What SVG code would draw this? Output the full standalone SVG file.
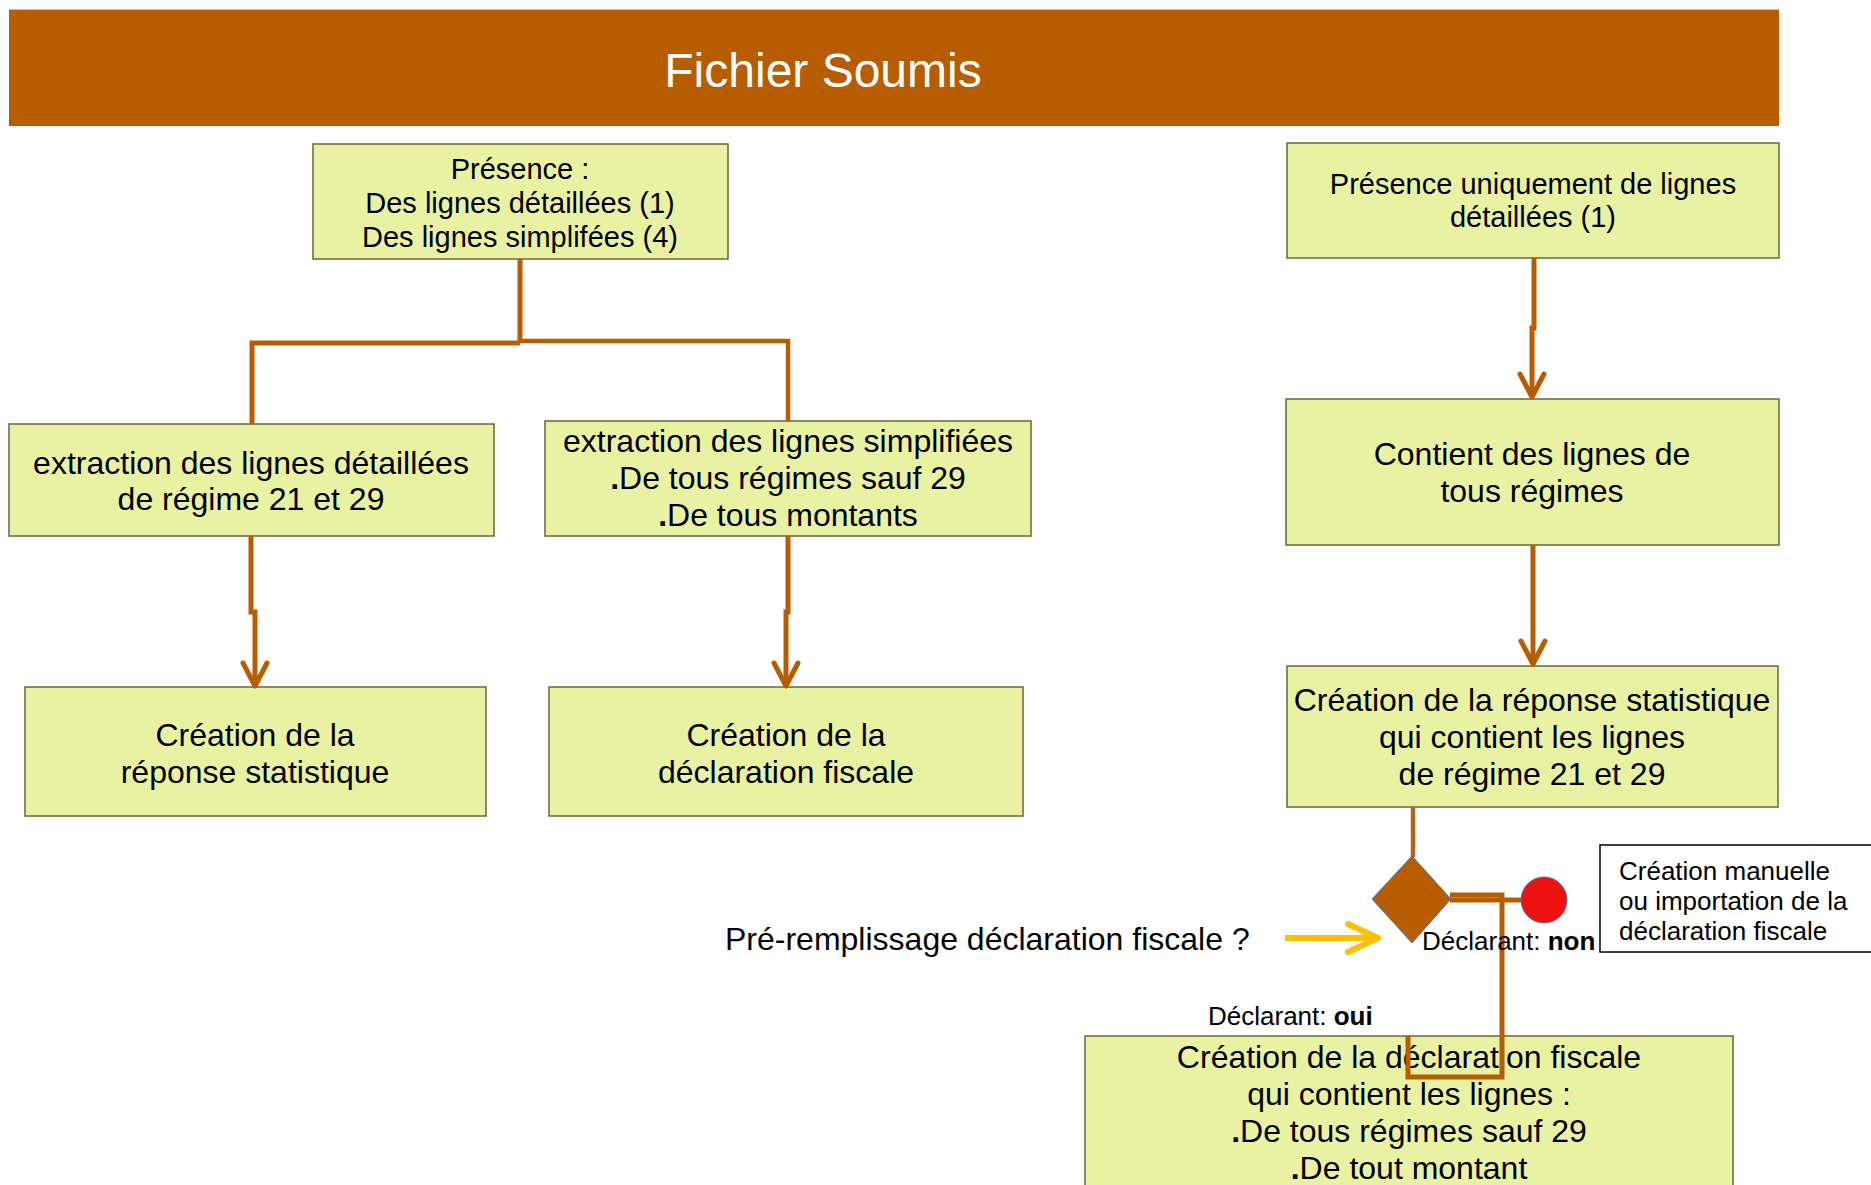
<svg xmlns="http://www.w3.org/2000/svg" width="1871" height="1185" viewBox="0 0 1871 1185">
<defs>
<style>
.box{fill:#E9F2A2;stroke:#6E6438;stroke-width:1.5}
.t{font-family:"Liberation Sans",Arial,sans-serif;fill:#000}
.t29{font-size:29px}
.t32{font-size:32px}
.t26{font-size:26px}
.c{text-anchor:middle}
.con{fill:none;stroke:#B85C00;stroke-width:5;stroke-linejoin:miter}
</style>
<marker id="arr" viewBox="-30 -16 34 32" refX="0" refY="0" markerWidth="34" markerHeight="32" markerUnits="userSpaceOnUse" orient="auto" overflow="visible">
<path d="M-23,-12 L0,0 L-23,12" fill="none" stroke="#B85C00" stroke-width="5" stroke-linecap="round" stroke-linejoin="round"/>
</marker>
<marker id="arrY" viewBox="-36 -18 40 36" refX="0" refY="0" markerWidth="40" markerHeight="36" markerUnits="userSpaceOnUse" orient="auto" overflow="visible">
<path d="M-30,-14 L0,0 L-30,14" fill="none" stroke="#FFC000" stroke-width="6" stroke-linecap="round" stroke-linejoin="round"/>
</marker>
</defs>
<rect width="1871" height="1185" fill="#fff"/>

<g id="header">
<rect x="9" y="9" width="1770" height="117" fill="#B85C00"/>
<line x1="9" y1="9.5" x2="1779" y2="9.5" stroke="#C8C0B8" stroke-width="1"/>
<text class="t c" x="823" y="87" font-size="48" style="fill:#fff">Fichier Soumis</text>
</g>

<g id="node-presence">
<rect class="box" x="313" y="144" width="415" height="115"/>
<text class="t t29 c" x="520" y="179">Présence :</text>
<text class="t t29 c" x="520" y="213">Des lignes détaillées (1)</text>
<text class="t t29 c" x="520" y="247">Des lignes simplifées (4)</text>
</g>

<g id="node-extract-detail">
<rect class="box" x="9" y="424" width="485" height="112"/>
<text class="t t32 c" x="251" y="474">extraction des lignes détaillées</text>
<text class="t t32 c" x="251" y="510">de régime 21 et 29</text>
</g>

<g id="node-extract-simpl">
<rect class="box" x="545" y="421" width="486" height="115"/>
<text class="t t32 c" x="788" y="452">extraction des lignes simplifiées</text>
<text class="t t32 c" x="788" y="489"><tspan font-weight="bold">.</tspan>De tous régimes sauf 29</text>
<text class="t t32 c" x="788" y="526"><tspan font-weight="bold">.</tspan>De tous montants</text>
</g>

<g id="node-rep-stat">
<rect class="box" x="25" y="687" width="461" height="129"/>
<text class="t t32 c" x="255" y="746">Création de la</text>
<text class="t t32 c" x="255" y="783">réponse statistique</text>
</g>

<g id="node-decl-fisc">
<rect class="box" x="549" y="687" width="474" height="129"/>
<text class="t t32 c" x="786" y="746">Création de la</text>
<text class="t t32 c" x="786" y="783">déclaration fiscale</text>
</g>

<g id="node-presence-unique">
<rect class="box" x="1287" y="143" width="492" height="115"/>
<text class="t t29 c" x="1533" y="194">Présence uniquement de lignes</text>
<text class="t t29 c" x="1533" y="227">détaillées (1)</text>
</g>

<g id="node-contient">
<rect class="box" x="1286" y="399" width="493" height="146"/>
<text class="t t32 c" x="1532" y="465">Contient des lignes de</text>
<text class="t t32 c" x="1532" y="502">tous régimes</text>
</g>

<g id="node-rep-stat-2129">
<rect class="box" x="1287" y="666" width="491" height="141"/>
<text class="t t32 c" x="1532" y="711">Création de la réponse statistique</text>
<text class="t t32 c" x="1532" y="748">qui contient les lignes</text>
<text class="t t32 c" x="1532" y="785">de régime 21 et 29</text>
</g>

<g id="node-decl-final">
<rect class="box" x="1085" y="1036" width="648" height="160"/>
<text class="t t32 c" x="1409" y="1068">Création de la déclaration fiscale</text>
<text class="t t32 c" x="1409" y="1105">qui contient les lignes :</text>
<text class="t t32 c" x="1409" y="1142"><tspan font-weight="bold">.</tspan>De tous régimes sauf 29</text>
<text class="t t32 c" x="1409" y="1179"><tspan font-weight="bold">.</tspan>De tout montant</text>
</g>

<g id="node-manuelle">
<rect x="1600" y="845" width="290" height="107" fill="#fff" stroke="#000" stroke-width="1.5"/>
<text class="t t26" x="1619" y="880">Création manuelle</text>
<text class="t t26" x="1619" y="910">ou importation de la</text>
<text class="t t26" x="1619" y="940">déclaration fiscale</text>
</g>

<g id="question">
<text class="t t32" x="725" y="950">Pré-remplissage déclaration fiscale ?</text>
</g>

<g id="connectors">
<path class="con" d="M520,259 V343"/>
<path class="con" d="M252,424 V343 H520"/>
<path class="con" d="M520,341 H788 V421" style="stroke-width:4.5"/>
<path class="con" d="M251,536 V612 H255 V686" marker-end="url(#arr)"/>
<path class="con" d="M788,536 V612 H786 V686" marker-end="url(#arr)"/>
<path class="con" d="M1534,258 V328 H1532 V397" marker-end="url(#arr)"/>
<path class="con" d="M1533,545 V664" marker-end="url(#arr)"/>
<path class="con" d="M1413,807 V857" style="stroke-width:4.5;stroke:#B8601A"/>
<path class="con" d="M1450,900 H1525"/>
<path class="con" d="M1450,895 H1502 V1077 H1408 V1036"/>
<path d="M1285,938 H1378" fill="none" stroke="#FFC000" stroke-width="6" marker-end="url(#arrY)"/>
</g>

<g id="node-decision">
<polygon points="1412,856 1451,899 1412,943 1372,899" fill="#B85C00" stroke="#4A74B0" stroke-width="1"/>
</g>

<g id="node-end">
<circle cx="1544" cy="900" r="23" fill="#EE1111" stroke="#4A74B0" stroke-width="1"/>
</g>

<g id="labels">
<text class="t t26" x="1422" y="950">Déclarant: <tspan font-weight="bold">non</tspan></text>
<text class="t t26" x="1208" y="1025">Déclarant: <tspan font-weight="bold">oui</tspan></text>
</g>
</svg>
